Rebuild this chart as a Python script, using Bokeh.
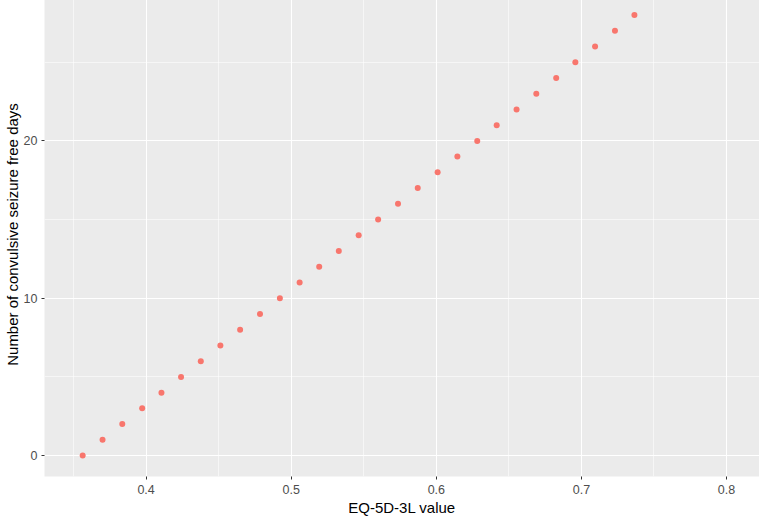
from bokeh.plotting import figure
from bokeh.models import ColumnDataSource, Range1d, FixedTicker
from bokeh.embed import file_html
from bokeh.resources import INLINE

eq5d_value = [0.3563, 0.3700, 0.3836, 0.3973, 0.4106, 0.4241, 0.4377, 0.4512,
              0.4648, 0.4785, 0.4922, 0.5058, 0.5193, 0.5328, 0.5465, 0.5599,
              0.5736, 0.5872, 0.6009, 0.6145, 0.6282, 0.6416, 0.6553, 0.6689,
              0.6826, 0.6958, 0.7094, 0.7231, 0.7365]
seizure_free_days = list(range(0, 29))
x_ticks = [0.4, 0.5, 0.6, 0.7, 0.8]
x_minor = [0.35, 0.45, 0.55, 0.65, 0.75]
y_ticks = [0, 10, 20]
y_minor = [5, 15, 25]

src = ColumnDataSource(dict(x=eq5d_value, y=seizure_free_days))

p = figure(width=759, height=526, output_backend="svg", toolbar_location=None,
           x_range=Range1d(0.3300, 0.8227), y_range=Range1d(-1.33, 29.43),
           min_border_left=37, min_border_right=0, min_border_top=0, min_border_bottom=40)
p.styles = {"margin-top": "-8px"}

p.background_fill_color = "#EBEBEB"
p.border_fill_color = "white"
p.outline_line_color = None

p.scatter("x", "y", source=src, size=6, color="#F8766D", line_color=None)

p.xaxis.ticker = FixedTicker(ticks=x_ticks, minor_ticks=x_minor)
p.yaxis.ticker = FixedTicker(ticks=y_ticks, minor_ticks=y_minor)

for ax in (p.xaxis[0], p.yaxis[0]):
    ax.axis_line_color = None
    ax.major_tick_line_color = "#333333"
    ax.major_tick_out = 3
    ax.major_tick_in = 0
    ax.minor_tick_line_color = None
    ax.major_label_text_font = "Liberation Sans"
    ax.major_label_text_font_size = "12.5px"
    ax.major_label_text_color = "#4D4D4D"
    ax.axis_label_text_font = "Liberation Sans"
    ax.axis_label_text_font_size = "15px"
    ax.axis_label_text_font_style = "normal"
    ax.axis_label_text_color = "black"

p.xaxis.axis_label = "EQ-5D-3L value"
p.yaxis.axis_label = "Number of convulsive seizure free days"
p.xaxis.major_label_standoff = 4
p.yaxis.major_label_standoff = 3
p.xaxis.axis_label_standoff = 2
p.yaxis.axis_label_standoff = 0

for g in (p.xgrid[0], p.ygrid[0]):
    g.grid_line_color = "white"
    g.grid_line_width = 1.1
    g.minor_grid_line_color = "white"
    g.minor_grid_line_width = 0.55

html = file_html(p, INLINE)
open("out.html", "w").write(html)
